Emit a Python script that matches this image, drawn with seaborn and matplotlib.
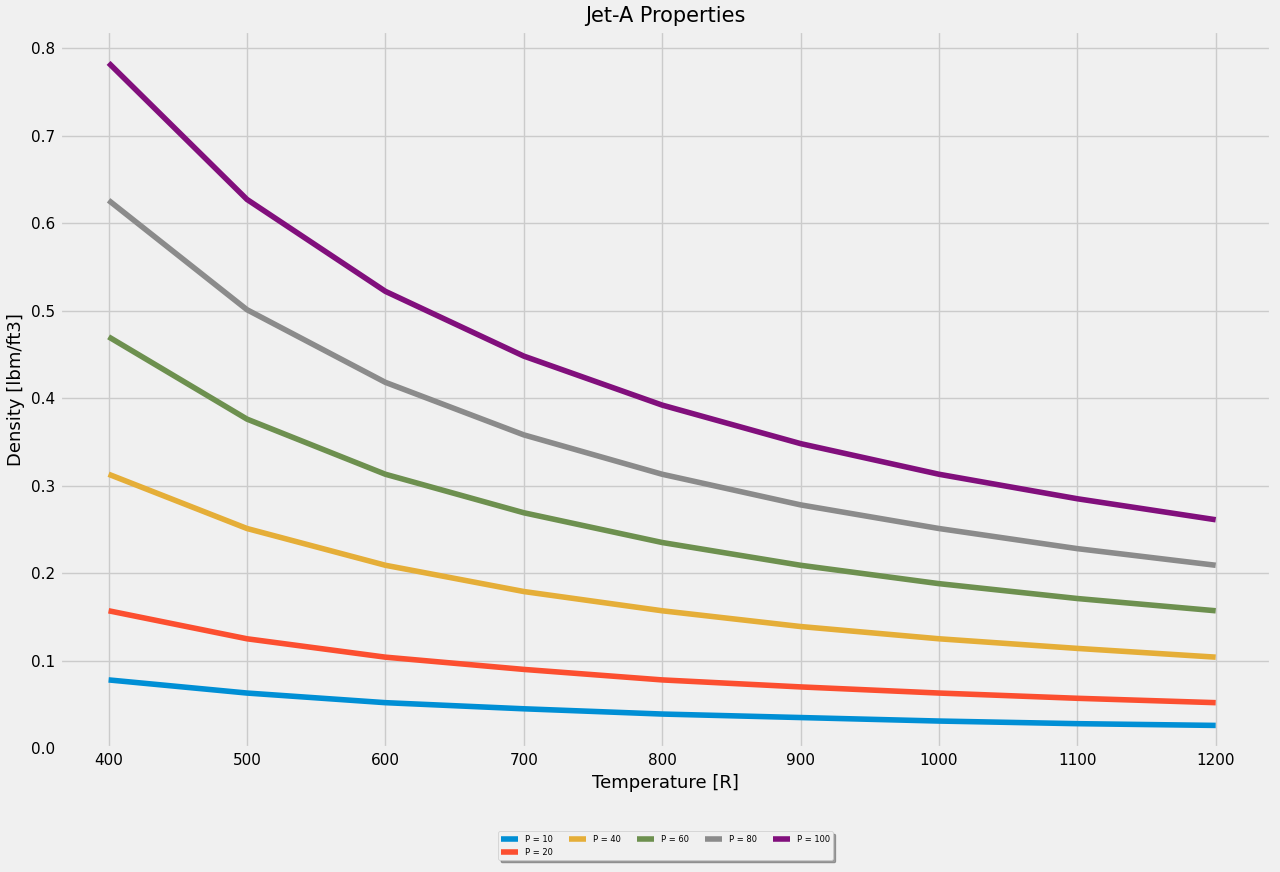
import matplotlib
matplotlib.use("Agg")
import matplotlib.pyplot as plt
import seaborn as sns
import pandas as pd

temps = [400, 500, 600, 700, 800, 900, 1000, 1100, 1200]
pressures = [10, 20, 40, 60, 80, 100]
rho_10 = [.078, .063, .052, .045, .039, .035, .031, .028, .026]
rho_20 = [.157, .125, .104, .090, .078, .070, .063, .057, .052]
rho_40 = [.313, .251, .209, .179, .157, .139, .125, .114, .104]
rho_60 = [.470, .376, .313, .269, .235, .209, .188, .171, .157]
rho_80 = [.626, .501, .418, .358, .313, .278, .251, .228, .209]
rho_100 = [.783, .627, .522, .448, .392, .348, .313, .285, .261]
series = [rho_10, rho_20, rho_40, rho_60, rho_80, rho_100]

rows = []
for p, vals in zip(pressures, series):
    for t, v in zip(temps, vals):
        rows.append({"T": t, "rho": v, "P": f"P = {p}"})
df = pd.DataFrame(rows)

plt.style.use("fivethirtyeight")
colors = ["#008fd5", "#fc4f30", "#e5ae38", "#6d904f", "#8b8b8b", "#810f7c"]
fig = plt.figure(figsize=(12.8, 8.72), dpi=100)
ax = fig.add_axes([0.047, 0.142, 0.946, 0.823])
sns.lineplot(data=df, x="T", y="rho", hue="P", palette=colors, linewidth=4, ax=ax)
ax.set_title("Jet-A Properties", fontsize=15)
ax.set_xlabel("Temperature [R]", fontsize=13)
ax.set_ylabel("Density [lbm/ft3]", fontsize=13)
ax.tick_params(labelsize=11)
ax.set_xticks(temps)
ax.set_ylim(-0.0, 0.82)
ax.set_xlim(365, 1240)
ax.legend(loc="upper center", bbox_to_anchor=(0.5, -0.11), ncol=5, fontsize=6,
          fancybox=True, shadow=True, title=None)
fig.savefig("out.png", dpi=100, facecolor=fig.get_facecolor())
